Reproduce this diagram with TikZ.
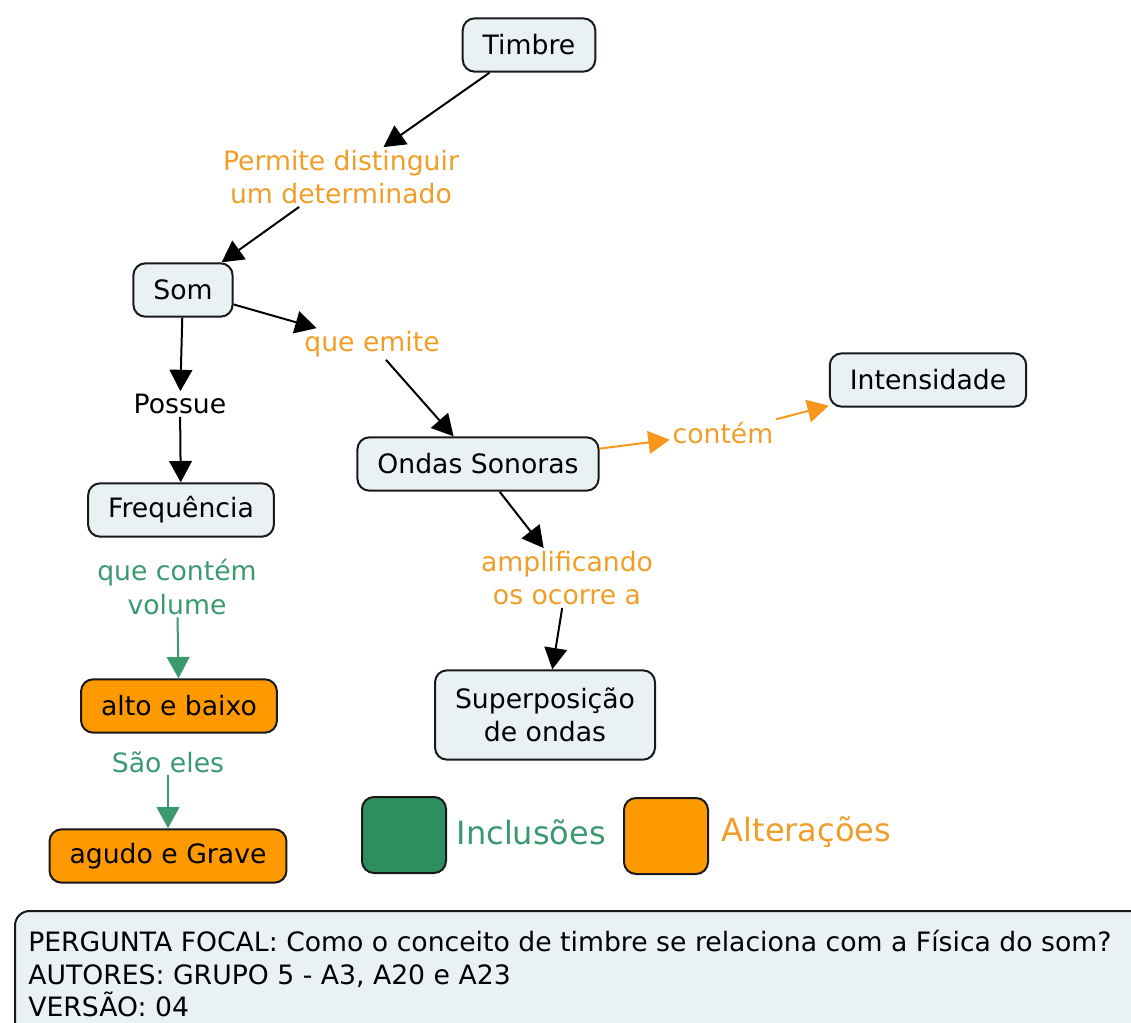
\documentclass[tikz,border=0pt]{standalone}
\usepackage{fontspec}
\setmainfont{DejaVu Sans}
\usepackage{xcolor}
\usepackage{tikz}
\usetikzlibrary{arrows.meta}

\definecolor{conceptfill}{RGB}{234,241,244}
\definecolor{altfill}{RGB}{255,153,0}
\definecolor{alttext}{RGB}{240,158,40}
\definecolor{altline}{RGB}{247,152,29}
\definecolor{inctext}{RGB}{58,154,110}
\definecolor{incfill}{RGB}{46,143,94}
\definecolor{edge}{RGB}{25,25,25}

\begin{document}
\begin{tikzpicture}[
    x=0.75pt, y=-0.75pt,
    every node/.style={font=\fontsize{20}{25}\selectfont},
    concept/.style={draw=edge, line width=1.5pt, rounded corners=9pt, fill=conceptfill, minimum height=40pt, inner xsep=15pt, align=center},
    changed/.style={concept, fill=altfill},
    phrase/.style={inner sep=2pt, align=center},
    altphrase/.style={phrase, text=alttext},
    incphrase/.style={phrase, text=inctext},
    link/.style={-{Triangle[length=16pt, width=17pt]}, line width=1.5pt, color=black},
    altlink/.style={link, color=altline},
    inclink/.style={link, color=inctext},
    swatch/.style={draw=edge, line width=1.5pt, rounded corners=9pt, minimum width=63pt, minimum height=57pt},
    ]

    \clip (0,0) rectangle (1131,1023);

    % Concepts
    \node[concept] (timbre) at (529,45) {Timbre};
    \node[concept] (som) at (183,290) {Som};
    \node[concept] (ondas) at (478,464) {Ondas Sonoras};
    \node[concept] (intens) at (928,380) {Intensidade};
    \node[concept] (freq) at (181,510) {Frequência};
    \node[concept, minimum height=67pt] (superp) at (545,715) {Superposição\\de ondas};
    \node[changed] (alto) at (179,706) {alto e baixo};
    \node[changed] (agudo) at (168,856) {agudo e Grave};

    % Linking phrases
    \node[altphrase] (permite) at (341,177) {Permite distinguir\\um determinado};
    \node[altphrase] (emite) at (372,344) {que emite};
    \node[phrase] (possue) at (180,404) {Possue};
    \node[altphrase] (contem) at (723,433) {contém};
    \node[altphrase] (amplif) at (567,578) {amplificando\\os ocorre a};
    \node[incphrase] (volume) at (177,587) {que contém\\volume};
    \node[incphrase] (saoeles) at (168,762) {São eles};

    % Links
    \draw[link] (timbre) -- (permite);
    \draw[link] (permite) -- (som);
    \draw[link] (som) -- (emite);
    \draw[link] (emite) -- (ondas);
    \draw[link] (som) -- (possue);
    \draw[link] (possue) -- (freq);
    \draw[altlink] (ondas) -- (contem);
    \draw[altlink] (contem) -- (intens);
    \draw[link] (ondas) -- (amplif);
    \draw[link] (amplif) -- (superp);
    \draw[inclink] (volume) -- (alto);
    \draw[inclink] (saoeles) -- (agudo);

    % Legend
    \node[swatch, fill=incfill] (incbox) at (404,835) {};
    \node[anchor=west, text=inctext, font=\fontsize{24}{28}\selectfont] (inclabel) at (452,832) {Inclusões};
    \node[swatch, fill=altfill] (altbox) at (666,836) {};
    \node[anchor=west, text=alttext, font=\fontsize{24}{28}\selectfont] (altlabel) at (717,832) {Alterações};

    % Focal question
    \node[draw=edge, line width=1.5pt, rounded corners=11pt, fill=conceptfill, anchor=north west, minimum width=900pt, minimum height=120pt] (focal) at (14,910) {};
    \node[anchor=north west, inner sep=0pt, align=left, font=\fontsize{20}{24.5}\selectfont] (focaltext) at (28,930) {PERGUNTA FOCAL: Como o conceito de timbre se relaciona com a Física do som?\\AUTORES: GRUPO 5 - A3, A20 e A23\\VERSÃO: 04};

\end{tikzpicture}
\end{document}
